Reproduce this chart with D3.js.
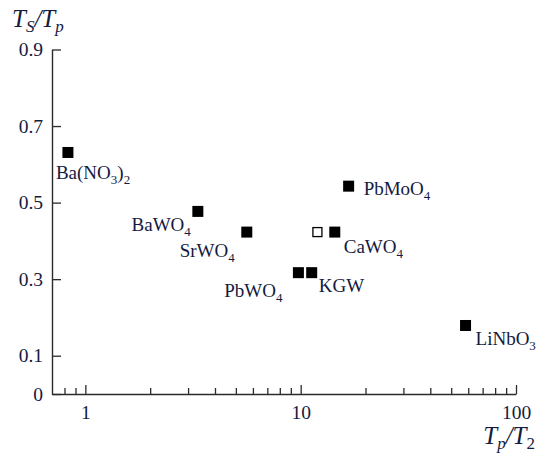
<!DOCTYPE html>
<html>
<head>
<meta charset="utf-8">
<script src="https://cdn.jsdelivr.net/npm/d3@7"></script>
<style>
  html, body { margin: 0; padding: 0; background: #fff; }
  svg { display: block; }
  text { font-family: "Liberation Serif", "Times New Roman", serif; fill: #141a40; }
</style>
</head>
<body>
<svg id="chart" width="537" height="458"></svg>
<script>
// Crystals and their (Tp/T2, Ts/Tp) values
const crystals = ["Ba(NO3)2", "BaWO4", "SrWO4", "PbWO4", "KGW", "CaWO4", "PbMoO4", "LiNbO3"];
const ratioT2 = [0.83, 3.33, 5.62, 9.76, 11.25, 14.4, 16.7, 58.3];
const ratioTs = [0.631, 0.477, 0.423, 0.317, 0.317, 0.423, 0.543, 0.179];

// Extra open-marker point (no label)
const openT2 = [11.96];
const openTs = [0.423];

// Label parts: [text, isSubscript], plus anchor offsets relative to the marker
const labelParts = [
  [["Ba(NO", 0], ["3", 1], [")", 0], ["2", 1]],
  [["BaWO", 0], ["4", 1]],
  [["SrWO", 0], ["4", 1]],
  [["PbWO", 0], ["4", 1]],
  [["KGW", 0]],
  [["CaWO", 0], ["4", 1]],
  [["PbMoO", 0], ["4", 1]],
  [["LiNbO", 0], ["3", 1]]
];
const labelAnchor = ["start", "end", "end", "end", "start", "start", "start", "start"];
const labelDx = [-12, -7, -12, -16, 7, 9, 15, 10];
const labelDy = [27, 20, 25, 24, 19, 21, 9, 20];

// Axis tick values
const yTicks = [0, 0.1, 0.3, 0.5, 0.7, 0.9];
const xTicks = [0.8, 0.9, 1, 2, 3, 4, 5, 6, 7, 8, 9, 10, 20, 30, 40, 50, 60, 70, 80, 90, 100];
const xMajor = [1, 10, 100];

const svg = d3.select("#chart");
const x = d3.scaleLog().domain([0.7, 100]).range([52, 516]);
const y = d3.scaleLinear().domain([0, 0.9]).range([394, 49.5]);

const axisColor = "#2b2b2b";

// X axis (log scale, ticks pointing inward)
const gx = svg.append("g")
  .attr("transform", `translate(0,${y(0)})`)
  .call(d3.axisBottom(x)
    .tickValues(xTicks)
    .tickSize(-6)
    .tickSizeOuter(0)
    .tickPadding(11)
    .tickFormat(d => xMajor.includes(d) ? String(d) : ""));
gx.selectAll(".tick line")
  .attr("y2", d => xMajor.includes(d) ? -9 : -6);

// Y axis
const gy = svg.append("g")
  .attr("transform", `translate(${x(0.7)},0)`)
  .call(d3.axisLeft(y)
    .tickValues(yTicks)
    .tickSize(-9)
    .tickSizeOuter(0)
    .tickPadding(9)
    .tickFormat(d => d === 0 ? "0" : d3.format(".1f")(d)));

[gx, gy].forEach(g => {
  g.select(".domain").attr("stroke", axisColor).attr("stroke-width", 1.4);
  g.selectAll(".tick line").attr("stroke", axisColor).attr("stroke-width", 1.3);
  g.selectAll(".tick text")
    .style("font-family", "'Liberation Serif', 'Times New Roman', serif")
    .style("font-size", "19.5px")
    .attr("fill", "#141a40");
});

// Axis titles
const yTitle = svg.append("text").attr("x", 12).attr("y", 27)
  .style("font-size", "25px").style("font-style", "italic");
yTitle.append("tspan").text("T");
yTitle.append("tspan").text("S").attr("dy", 5).style("font-size", "17px");
yTitle.append("tspan").text("/T").attr("dy", -5);
yTitle.append("tspan").text("p").attr("dy", 5).style("font-size", "17px");

const xTitle = svg.append("text").attr("x", 535).attr("y", 444)
  .attr("text-anchor", "end")
  .style("font-size", "25px").style("font-style", "italic");
xTitle.append("tspan").text("T");
xTitle.append("tspan").text("p").attr("dy", 5).style("font-size", "17px");
xTitle.append("tspan").text("/T").attr("dy", -5);
xTitle.append("tspan").text("2").attr("dy", 5).style("font-size", "17px").style("font-style", "normal");

// Filled markers
const size = 11;
svg.append("g").selectAll("rect")
  .data(crystals.map((c, i) => ({ c, i, t2: ratioT2[i], ts: ratioTs[i] })))
  .join("rect")
  .attr("x", d => x(d.t2) - size / 2)
  .attr("y", d => y(d.ts) - size / 2)
  .attr("width", size)
  .attr("height", size)
  .attr("fill", "#000");

// Open marker
const osz = 9;
svg.append("g").selectAll("rect")
  .data(openT2.map((t2, i) => ({ t2, ts: openTs[i] })))
  .join("rect")
  .attr("x", d => x(d.t2) - osz / 2)
  .attr("y", d => y(d.ts) - osz / 2)
  .attr("width", osz)
  .attr("height", osz)
  .attr("fill", "#fff")
  .attr("stroke", "#000")
  .attr("stroke-width", 1.3);

// Crystal labels with chemical subscripts
crystals.forEach((c, i) => {
  const t = svg.append("text")
    .attr("x", x(ratioT2[i]) + labelDx[i])
    .attr("y", y(ratioTs[i]) + labelDy[i])
    .attr("text-anchor", labelAnchor[i])
    .style("font-size", "19px");
  let shifted = false;
  labelParts[i].forEach(([txt, sub]) => {
    const s = t.append("tspan").text(txt);
    if (sub && !shifted) { s.attr("dy", 5).style("font-size", "13px"); shifted = true; }
    else if (sub && shifted) { s.style("font-size", "13px"); }
    else if (!sub && shifted) { s.attr("dy", -5); shifted = false; }
  });
});
</script>
</body>
</html>
